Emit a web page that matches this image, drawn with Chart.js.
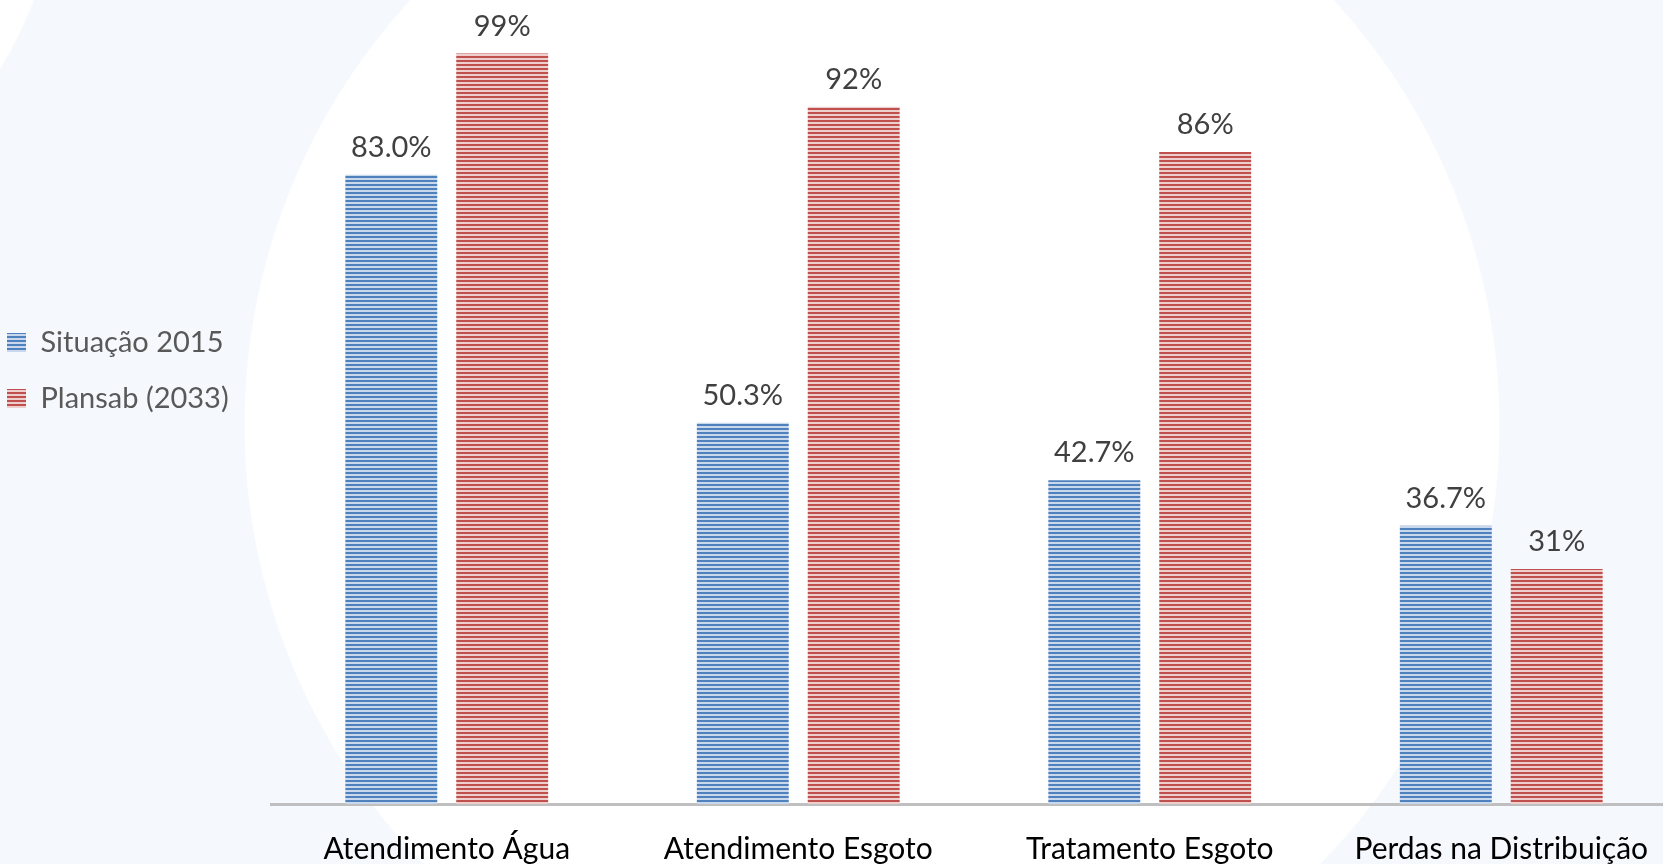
<!DOCTYPE html>
<html><head><meta charset="utf-8">
<script src="https://cdn.jsdelivr.net/npm/chart.js@4/dist/chart.umd.min.js"></script>
<style>
html,body{margin:0;padding:0;overflow:hidden;width:1663px;height:864px;}
body{background:
 radial-gradient(circle 467px at -400px -170px, #fff 99.6%, rgba(255,255,255,0) 100%),
 radial-gradient(circle 628px at 872px 425px, #fff 99.8%, #f5f9fd 100%);}
#wrap{position:absolute;left:0;top:0;width:1677px;height:864px;}
</style></head>
<body><div id="wrap"><canvas id="c"></canvas></div>
<script>
const categories = ['Atendimento Água', 'Atendimento Esgoto', 'Tratamento Esgoto', 'Perdas na Distribuição'];
const seriesNames = ['Situação 2015', 'Plansab (2033)'];
const situacao2015 = [83.0, 50.3, 42.7, 36.7];
const plansab2033 = [99, 92, 86, 31];
const labelDecimals = [1, 0];
const yRange = [0, 100];

function stripes(dark, light) {
  const c = document.createElement('canvas');
  c.width = 4; c.height = 4;
  const g = c.getContext('2d');
  g.fillStyle = light; g.fillRect(0, 0, 4, 4);
  g.fillStyle = dark; g.fillRect(0, 0, 4, 2);
  return g.createPattern(c, 'repeat');
}
const blueP = stripes('#4f81bd', '#c9d8ec');
const redP = stripes('#c0504d', '#efcfce');

const FONT = 'Lato';

const legendPlace = {
  id: 'legendPlace',
  beforeLayout(chart) {
    const lg = chart.legend;
    if (lg && !lg._patched) {
      const f = lg.fit;
      lg.fit = function () { f.call(this); this.width = 271; };
      lg._patched = true;
    }
  },
  afterLayout(chart) {
    const lg = chart.legend;
    if (lg) { lg.left = -20; lg.top = 301; }
  }
};

const valueLabels = {
  id: 'valueLabels',
  afterDatasetsDraw(chart) {
    const ctx = chart.ctx;
    ctx.save();
    ctx.font = '29px ' + FONT;
    ctx.fillStyle = '#404040';
    ctx.textAlign = 'center';
    ctx.textBaseline = 'alphabetic';
    chart.data.datasets.forEach((ds, i) => {
      chart.getDatasetMeta(i).data.forEach((bar, j) => {
        ctx.fillText(ds.data[j].toFixed(labelDecimals[i]) + '%', bar.x, bar.y - 18);
      });
    });
    ctx.restore();
  }
};

new Chart(document.getElementById('c'), {
  type: 'bar',
  data: {
    labels: categories,
    datasets: [
      { label: seriesNames[0], data: situacao2015, backgroundColor: blueP, borderWidth: 0 },
      { label: seriesNames[1], data: plansab2033, backgroundColor: redP, borderWidth: 0 }
    ]
  },
  options: {
    responsive: true,
    maintainAspectRatio: false,
    animation: false,
    datasets: { bar: { categoryPercentage: 0.631, barPercentage: 0.829 } },
    layout: { padding: { top: 46, left: 0, right: 0, bottom: 0 } },
    scales: {
      x: {
        grid: { display: false, drawTicks: false },
        border: { display: true, color: '#bfbfbf', width: 3 },
        ticks: { color: '#000', font: { family: FONT, size: 30 }, padding: 27, maxRotation: 0, autoSkip: false },
        afterFit(s) { s.height = 60; }
      },
      y: { display: false, min: yRange[0], max: yRange[1] }
    },
    plugins: {
      legend: {
        position: 'left', align: 'start',
        labels: { font: { family: FONT, size: 29 }, color: '#595959', boxWidth: 19, boxHeight: 19, padding: 27 }
      },
      tooltip: { enabled: false }
    }
  },
  plugins: [legendPlace, valueLabels]
});
</script>
</body></html>
